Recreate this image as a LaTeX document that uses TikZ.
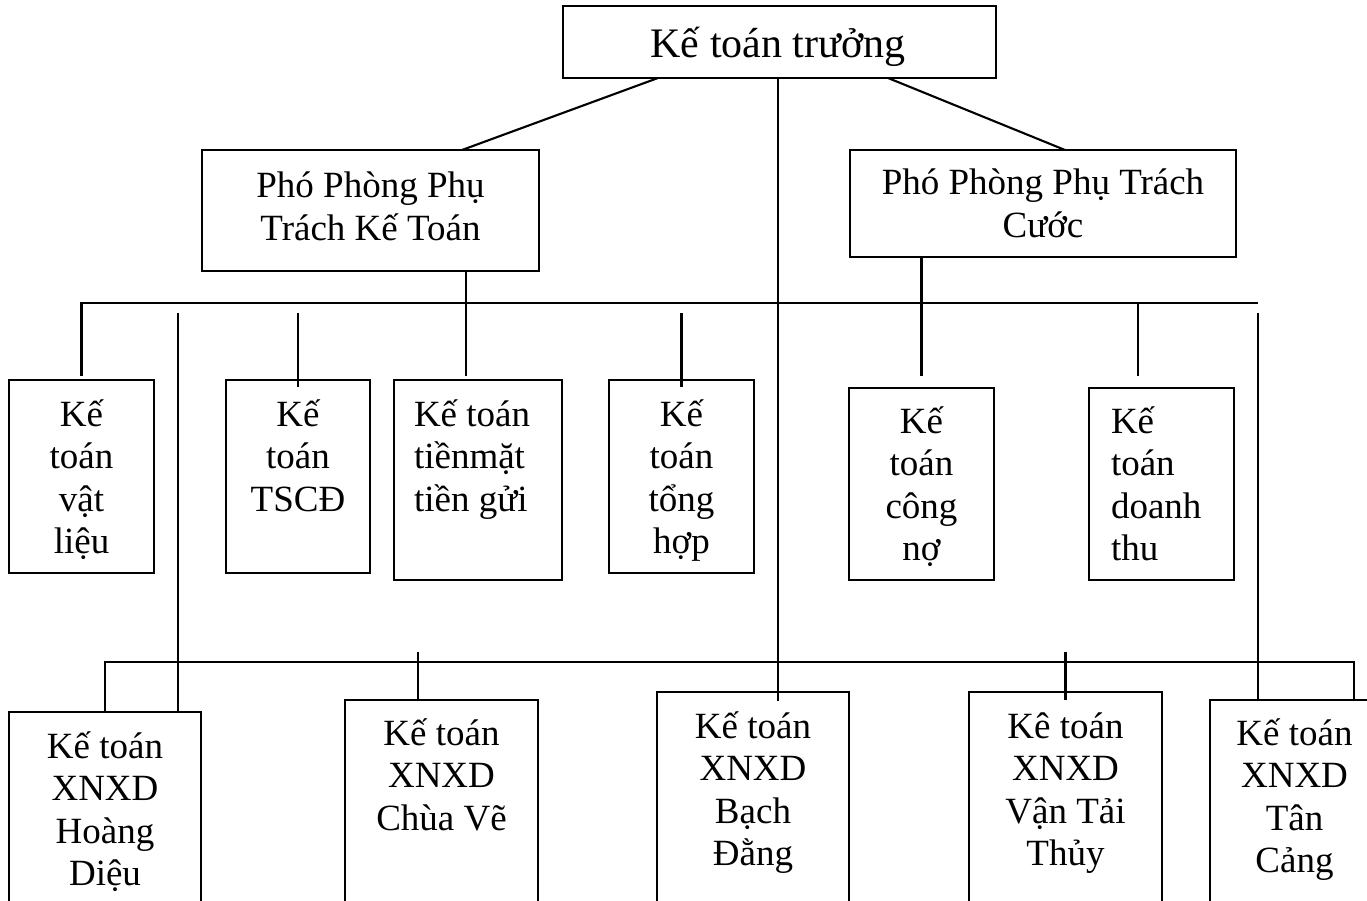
\documentclass[tikz,border=0pt]{standalone}
\usepackage{fontspec}
\setmainfont{Liberation Serif}
\newcommand\linesc[1]{\begin{tabular}[t]{@{}c@{}}#1\end{tabular}}
\newcommand\linesl[1]{\begin{tabular}[t]{@{}l@{}}#1\end{tabular}}
\tikzset{
  bx/.style={draw, line width=2.1pt, inner sep=0pt, outer sep=0pt, anchor=north west},
  tx/.style={inner sep=0pt, outer sep=0pt, font=\fontsize{37}{42.6}\selectfont},
  ln/.style={line width=2.1pt},
}
\begin{document}
\begin{tikzpicture}[x=1pt,y=-1pt]
\useasboundingbox (0,0) rectangle (1367,901);
\clip (0,0) rectangle (1367,901);
% boxes
\node[bx, minimum width=433, minimum height=72] (kt) at (563,6) {};
\node[bx, minimum width=337, minimum height=121] (pk) at (202,150) {};
\node[bx, minimum width=386, minimum height=107] (pc) at (850,150) {};
\node[bx, minimum width=145, minimum height=193] (vl) at (9,380) {};
\node[bx, minimum width=144, minimum height=193] (ts) at (226,380) {};
\node[bx, minimum width=168, minimum height=200] (tm) at (394,380) {};
\node[bx, minimum width=145, minimum height=193] (th) at (609,380) {};
\node[bx, minimum width=145, minimum height=192] (cn) at (849,388) {};
\node[bx, minimum width=145, minimum height=192] (dt) at (1089,388) {};
\node[bx, minimum width=192, minimum height=210] (hd) at (9,712) {};
\node[bx, minimum width=193, minimum height=222] (cv) at (345,700) {};
\node[bx, minimum width=192, minimum height=230] (bd) at (657,692) {};
\node[bx, minimum width=193, minimum height=230] (vt) at (969,692) {};
\node[bx, minimum width=169, minimum height=222] (tc) at (1210,700) {};
% texts
\node[tx, font=\fontsize{42}{48}\selectfont, anchor=base] (kt-t) at ([xshift=-1.5pt,yshift=-52pt]kt.north) {Kế toán trưởng};
\node[tx, anchor=base] (pk-t) at ([yshift=-48pt]pk.north) {\linesc{Phó Phòng Phụ\\Trách Kế Toán}};
\node[tx, anchor=base] (pc-t) at ([yshift=-45pt]pc.north) {\linesc{Phó Phòng Phụ Trách\\Cước}};
\node[tx, anchor=base] (vl-t) at ([yshift=-46pt]vl.north) {\linesc{Kế\\toán\\vật\\liệu}};
\node[tx, anchor=base] (ts-t) at ([yshift=-46pt]ts.north) {\linesc{Kế\\toán\\TSCĐ}};
\node[tx, anchor=base west] (tm-t) at ([xshift=20pt,yshift=-46pt]tm.north west) {\linesl{Kế toán\\tiềnmặt\\tiền gửi}};
\node[tx, anchor=base] (th-t) at ([yshift=-46pt]th.north) {\linesc{Kế\\toán\\tổng\\hợp}};
\node[tx, anchor=base] (cn-t) at ([yshift=-45pt]cn.north) {\linesc{Kế\\toán\\công\\nợ}};
\node[tx, anchor=base west] (dt-t) at ([xshift=22pt,yshift=-45pt]dt.north west) {\linesl{Kế\\toán\\doanh\\thu}};
\node[tx, anchor=base] (hd-t) at ([yshift=-46pt]hd.north) {\linesc{Kế toán\\XNXD\\Hoàng\\Diệu}};
\node[tx, anchor=base] (cv-t) at ([yshift=-45pt]cv.north) {\linesc{Kế toán\\XNXD\\Chùa Vẽ}};
\node[tx, anchor=base] (bd-t) at ([yshift=-46pt]bd.north) {\linesc{Kế toán\\XNXD\\Bạch\\Đằng}};
\node[tx, anchor=base] (vt-t) at ([yshift=-46pt]vt.north) {\linesc{Kê toán\\XNXD\\Vận Tải\\Thủy}};
\node[tx, anchor=base] (tc-t) at ([yshift=-45pt]tc.north) {\linesc{Kế toán\\XNXD\\Tân\\Cảng}};
% connectors
\draw[ln] ([xshift=95pt]kt.south west) -- ([xshift=260pt]pk.north west);
\draw[ln] ([xshift=325pt]kt.south west) -- ([xshift=215pt]pc.north west);
\coordinate (cA) at ([xshift=-1.5pt]kt.south);
\coordinate (cB) at ([xshift=25pt,yshift=-9pt]bd.north);
\draw[ln] (cA) -- (cB);
\coordinate (busR) at (1258,303);
\draw[ln] ([yshift=4pt]vl.north) -- (vl.north |- busR) -- (busR);
\draw[ln] ([xshift=-73pt]pk.south east) -- ([xshift=72pt,yshift=4pt]tm.north west);
\draw[ln] ([yshift=67pt]ts.north) -- ([yshift=-7pt]ts.north);
\draw[ln] ([yshift=67pt]th.north) -- ([yshift=-7pt]th.north);
\draw[ln] (cn.north |- pc.south) -- ([yshift=12pt]cn.north);
\coordinate (dtj) at ([xshift=49pt,yshift=12pt]dt.north west);
\draw[ln] (dtj |- busR) -- (dtj);
\coordinate (hdj) at ([xshift=-23pt]hd.north east);
\draw[ln] (hdj) -- ++(0,-399);
\coordinate (tcj) at ([xshift=48pt]tc.north west);
\draw[ln] (tcj) -- ++(0,-387);
\coordinate (bbR) at (1354,662);
\draw[ln] (hd.north) -- (hd.north |- bbR) -- (bbR) -- (bbR |- tc.north);
\draw[ln] ([xshift=73pt,yshift=48pt]cv.north west) -- ([xshift=73pt]cv.north west);
\draw[ln] ([yshift=40pt]vt.north) -- ([yshift=-8pt]vt.north);
\end{tikzpicture}
\end{document}
